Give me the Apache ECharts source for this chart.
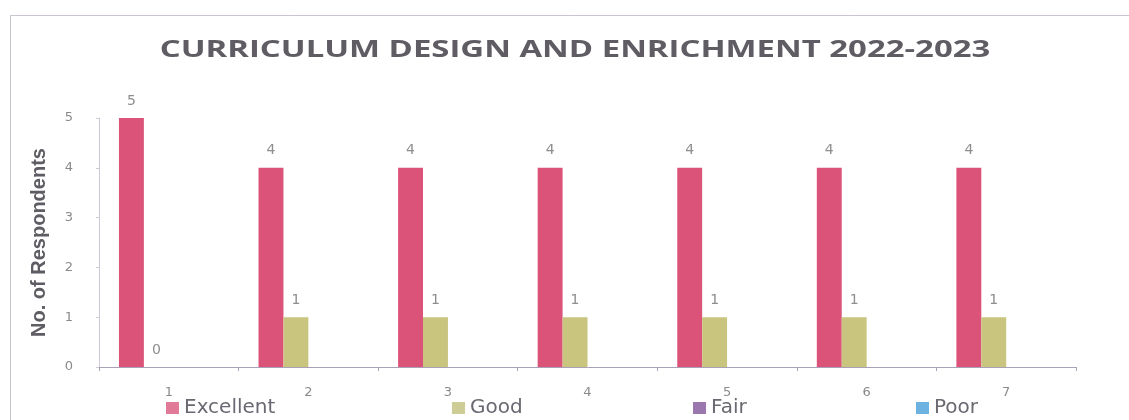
<!DOCTYPE html>
<html>
<head>
<meta charset="utf-8">
<script src="https://cdn.jsdelivr.net/npm/echarts@6/dist/echarts.min.js"></script>
<style>
  html, body { margin: 0; padding: 0; background: #ffffff; }
  #chart { width: 1129px; height: 420px; }
</style>
</head>
<body>
<div id="chart"></div>
<script>
// Survey responses per question
const categories = ['1', '2', '3', '4', '5', '6', '7'];
const excellent = [5, 4, 4, 4, 4, 4, 4];
const good = [0, 1, 1, 1, 1, 1, 1];
const fair = [0, 0, 0, 0, 0, 0, 0];
const poor = [0, 0, 0, 0, 0, 0, 0];
const yTicks = [0, 1, 2, 3, 4, 5];

const seriesNames = ['Excellent', 'Good', 'Fair', 'Poor'];
const barColors = ['#dc5379', '#c9c47e', '#8c5d9c', '#5aa6dc'];
const legendColors = ['#e07a98', '#cfcd96', '#9a78ad', '#6eb2e2'];
const legendLeft = [166, 452, 693, 916];

const chart = echarts.init(document.getElementById('chart'));

const valueLabel = {
  show: true,
  position: 'top',
  distance: 10,
  color: '#8e8e8e',
  fontFamily: 'DejaVu Sans',
  fontSize: 14
};

const option = {
  backgroundColor: '#ffffff',
  animation: false,
  graphic: [
    {
      type: 'rect',
      shape: { x: 10.5, y: 15.5, width: 1200, height: 500 },
      style: { fill: 'none', stroke: '#cbc4cf', lineWidth: 1 },
      silent: true
    },
    {
      type: 'text',
      x: 575,
      y: 50,
      scaleX: 1.37,
      style: {
        text: 'CURRICULUM DESIGN AND ENRICHMENT 2022-2023',
        font: 'bold 24px "Open Sans"',
        fill: '#5f5c63',
        textAlign: 'center',
        textVerticalAlign: 'middle'
      },
      silent: true
    }
  ],
  legend: seriesNames.map((name, i) => ({
    data: [{ name: name, itemStyle: { color: legendColors[i] } }],
    left: legendLeft[i],
    top: 398,
    itemWidth: 13,
    itemHeight: 12,
    itemGap: 4,
    icon: 'rect',
    padding: 0,
    textStyle: {
      color: '#6a6870',
      fontFamily: 'DejaVu Sans',
      fontSize: 20
    }
  })),
  grid: {
    left: 99,
    right: 53,
    top: 118,
    bottom: 53,
    containLabel: false
  },
  xAxis: {
    type: 'category',
    data: categories,
    axisLine: { lineStyle: { color: '#a9a2b6', width: 1 } },
    axisTick: { show: true, length: 4, lineStyle: { color: '#a9a2b6' } },
    axisLabel: {
      color: '#8a8a8a',
      fontFamily: 'DejaVu Sans',
      fontSize: 13,
      margin: 19
    },
    splitLine: { show: false }
  },
  yAxis: {
    type: 'value',
    min: yTicks[0],
    max: yTicks[yTicks.length - 1],
    interval: 1,
    name: 'No. of Respondents',
    nameLocation: 'middle',
    nameRotate: 90,
    nameGap: 50,
    nameTextStyle: {
      color: '#5f5c63',
      fontFamily: 'Liberation Sans',
      fontWeight: 'bold',
      fontSize: 20
    },
    axisLine: { show: true, lineStyle: { color: '#cfc9d6', width: 1 } },
    axisTick: { show: true, length: 3, lineStyle: { color: '#cfc9d6' } },
    axisLabel: {
      color: '#8a8a8a',
      fontFamily: 'DejaVu Sans',
      fontSize: 13,
      margin: 26
    },
    splitLine: { show: false }
  },
  series: [
    {
      name: seriesNames[0],
      type: 'bar',
      data: excellent,
      barGap: '0%',
      barCategoryGap: '28.6%',
      itemStyle: { color: barColors[0] },
      label: valueLabel
    },
    {
      name: seriesNames[1],
      type: 'bar',
      data: good,
      itemStyle: { color: barColors[1] },
      label: valueLabel
    },
    {
      name: seriesNames[2],
      type: 'bar',
      data: fair,
      itemStyle: { color: barColors[2] },
      label: { show: false }
    },
    {
      name: seriesNames[3],
      type: 'bar',
      data: poor,
      itemStyle: { color: barColors[3] },
      label: { show: false }
    }
  ]
};

chart.setOption(option);
</script>
</body>
</html>
